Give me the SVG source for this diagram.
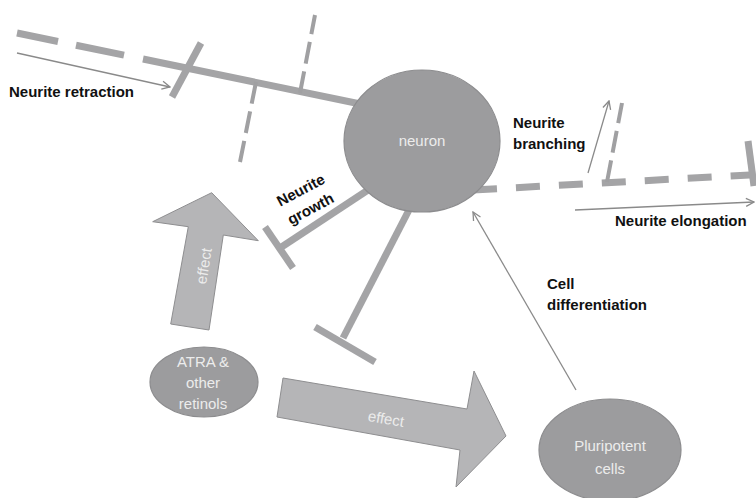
<svg xmlns="http://www.w3.org/2000/svg" width="756" height="498" viewBox="0 0 756 498">
<defs>
<marker id="chev" viewBox="0 0 10 10" refX="9" refY="5" markerWidth="10" markerHeight="10" markerUnits="userSpaceOnUse" orient="auto">
<path d="M1,1 L9,5 L1,9" fill="none" stroke="#8a8a8a" stroke-width="1.3"/>
</marker>
<style>
.neur{stroke:#a4a4a6;stroke-width:7;fill:none;stroke-linecap:butt}
.branch{stroke:#a0a0a2;stroke-width:4;fill:none;stroke-dasharray:22 8}
.thin{stroke:#8a8a8a;stroke-width:1.3;fill:none;marker-end:url(#chev)}
.node{fill:#9c9c9e;stroke:#8c8c8e;stroke-width:1.2}
.block{fill:#b5b5b7;stroke:#8e8e90;stroke-width:1}
.lab{font-family:"Liberation Sans",Arial,sans-serif;font-weight:bold;font-size:15px;fill:#111}
.in{font-family:"Liberation Sans",Arial,sans-serif;font-size:15px;fill:#ececec;text-anchor:middle}
</style>
</defs>
<rect width="756" height="498" fill="#ffffff"/>
<g id="connectors">
<!-- top-left neurite -->
<line class="neur" x1="17" y1="33" x2="58" y2="41.5"/>
<line class="neur" x1="76" y1="45.2" x2="124" y2="55.1"/>
<line class="neur" x1="143" y1="59" x2="358" y2="103.5"/>
<line class="neur" x1="201" y1="43" x2="172" y2="97"/>
<line class="branch" x1="256" y1="82" x2="240" y2="162"/>
<line class="branch" x1="300" y1="93" x2="315" y2="15"/>
<line class="thin" x1="17" y1="53" x2="170" y2="87"/>
<!-- right dashed neurite -->
<line class="neur" x1="473" y1="190" x2="756" y2="174.6" stroke-width="6.5" stroke-dasharray="24 19"/>
<line class="neur" x1="748" y1="141" x2="754" y2="186" stroke-width="6"/>
<line class="branch" x1="607" y1="182" x2="622" y2="103"/>
<line class="thin" x1="588" y1="173" x2="609" y2="101"/>
<line class="thin" x1="575" y1="210" x2="754" y2="202"/>
<!-- neurite growth bar -->
<line class="neur" x1="368" y1="190" x2="280" y2="248"/>
<line class="neur" x1="265" y1="227" x2="293" y2="268"/>
<!-- lower bar -->
<line class="neur" x1="410" y1="208" x2="343" y2="338"/>
<line class="neur" x1="315" y1="327" x2="375" y2="362"/>
<!-- cell differentiation -->
<line class="thin" x1="576" y1="390" x2="473" y2="212"/>
<!-- block arrows -->
<g id="effect-up">
<polygon class="block" points="211.7,192.7 258.3,240.7 223.3,235 209,330 170.7,324 188.3,226.7 152.7,221.7"/>
<text class="in" transform="translate(204,266) rotate(-81)" y="5">effect</text>
</g>
<g id="effect-right">
<polygon class="block" points="283,378 467,409 474,371 506,436 456,487 460,450 277,417"/>
<text class="in" transform="translate(386,419) rotate(10)" y="5">effect</text>
</g>
</g>
<g id="neuron">
<ellipse class="node" cx="422" cy="141" rx="78" ry="71"/>
<text class="in" x="422" y="146">neuron</text>
</g>
<g id="atra">
<ellipse class="node" cx="204" cy="382" rx="54" ry="35"/>
<text class="in" x="203" y="367">ATRA &amp;</text>
<text class="in" x="203" y="388">other</text>
<text class="in" x="203" y="409">retinols</text>
</g>
<g id="pluripotent">
<ellipse class="node" cx="610" cy="450" rx="71" ry="51"/>
<text class="in" x="610" y="451">Pluripotent</text>
<text class="in" x="610" y="474">cells</text>
</g>
<g id="labels">
<text class="lab" x="9" y="97">Neurite retraction</text>
<text class="lab" x="513" y="128">Neurite</text>
<text class="lab" x="513" y="149">branching</text>
<text class="lab" x="615" y="226">Neurite elongation</text>
<text class="lab" x="547" y="289">Cell</text>
<text class="lab" x="547" y="310">differentiation</text>
<g transform="translate(306,200) rotate(-28)">
<text class="lab" text-anchor="middle" x="0" y="-6">Neurite</text>
<text class="lab" text-anchor="middle" x="0" y="15">growth</text>
</g>
</g>
</svg>
